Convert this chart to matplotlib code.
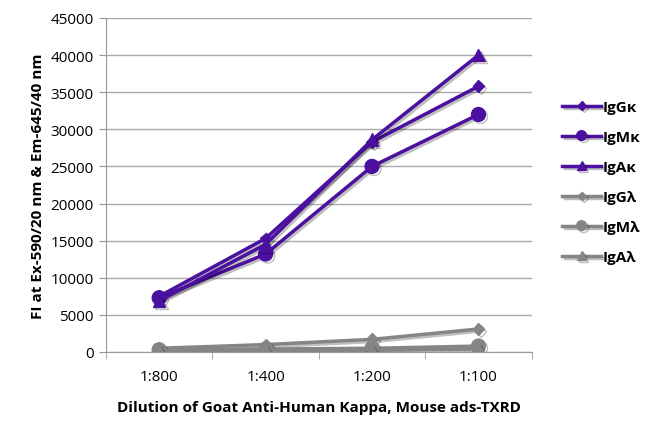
import matplotlib
matplotlib.use("Agg")
from matplotlib import pyplot as plt
from matplotlib import patheffects as pe

plt.rcParams['font.family'] = ['Open Sans', 'DejaVu Sans']

# Данные
dilutions = ["1:800", "1:400", "1:200", "1:100"]
igg_k = [7500, 15300, 28300, 35800]
igm_k = [7300, 13200, 25000, 32000]
iga_k = [6900, 14500, 28600, 40000]
igg_l = [500, 1000, 1700, 3100]
igm_l = [300, 400, 500, 800]
iga_l = [200, 200, 300, 400]

purple = "#4b10a0"
gray = "#858585"

series = [
    ("IgGκ", igg_k, purple, "D", 6),
    ("IgMκ", igm_k, purple, "o", 10),
    ("IgAκ", iga_k, purple, "^", 9),
    ("IgGλ", igg_l, gray, "D", 6),
    ("IgMλ", igm_l, gray, "o", 10),
    ("IgAλ", iga_l, gray, "^", 9),
]

fig = plt.figure(figsize=(6.5, 4.31), dpi=100)
ax = fig.add_axes([0.163, 0.181, 0.655, 0.775])

shadow = [pe.SimpleLineShadow(offset=(1.5, -1.5), shadow_color="k", alpha=0.25), pe.Normal()]
x = list(range(len(dilutions)))
for name, vals, col, mk, ms in series:
    ax.plot(x, vals, color=col, marker=mk, markersize=ms, linewidth=2.5,
            label=name, path_effects=shadow)

ax.set_xlim(-0.5, 3.5)
ax.set_ylim(0, 45000)
ax.set_yticks(range(0, 45001, 5000))
ax.set_xticks(x)
ax.set_xticklabels(dilutions)
ax.set_xticks([-0.5, 0.5, 1.5, 2.5, 3.5], minor=True)
ax.tick_params(axis='x', which='major', length=0, pad=12, labelsize=11)
ax.tick_params(axis='x', which='minor', length=5, color="#999999", direction='out')
ax.tick_params(axis='y', length=5, color="#999999", labelsize=11, pad=4)
ax.grid(axis='y', color="#aaaaaa", linewidth=1)
ax.set_axisbelow(True)
for s in ["top", "right"]:
    ax.spines[s].set_visible(False)
for s in ["left", "bottom"]:
    ax.spines[s].set_color("#999999")

ax.set_ylabel("FI at Ex-590/20 nm & Em-645/40 nm", fontweight="bold", fontsize=11)
ax.set_xlabel("Dilution of Goat Anti-Human Kappa, Mouse ads-TXRD", fontweight="bold",
              fontsize=11, labelpad=12)

leg = ax.legend(loc="upper left", bbox_to_anchor=(1.04, 0.796), frameon=False,
                handlelength=2.5, handletextpad=0.1, labelspacing=1.05,
                prop={'weight': 'bold', 'size': 11}, markerscale=0.7)

fig.savefig("out.png", dpi=100)
